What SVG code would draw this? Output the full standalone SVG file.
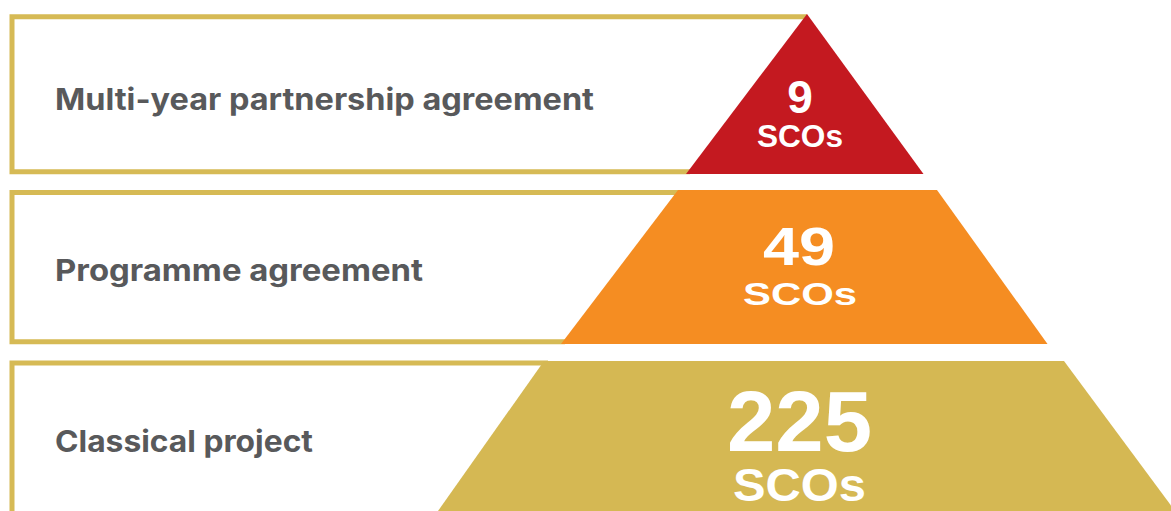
<svg xmlns="http://www.w3.org/2000/svg" width="1171" height="511" viewBox="0 0 1171 511">
  <style>
    .frame { fill: none; stroke: #D6BA55; stroke-width: 5; }
    .label { font-family: Inter, "Open Sans", "Liberation Sans", sans-serif; font-weight: 700; fill: #58595B; }
    .count { font-family: "Liberation Sans", Arial, sans-serif; font-weight: 700; fill: #FFFFFF; text-anchor: middle; }
  </style>
  <rect x="0" y="0" width="1171" height="511" fill="#FFFFFF"/>

  <!-- top tier -->
  <g id="tier-multi-year">
    <path class="frame" d="M807,16.8 H12 V171.7 H690"/>
    <polygon points="807,14 923.5,174 686,174" fill="#C41920"/>
    <text class="label" x="55" y="109.5" font-size="30" textLength="539" lengthAdjust="spacingAndGlyphs">Multi-year partnership agreement</text>
    <text class="count" x="800" y="113" font-size="46">9</text>
    <text class="count" x="800" y="147" font-size="31" textLength="86" lengthAdjust="spacingAndGlyphs">SCOs</text>
  </g>

  <!-- middle tier -->
  <g id="tier-programme">
    <path class="frame" d="M680,192.5 H12 V341.7 H565"/>
    <polygon points="678,190 937,190 1047.5,344 561,344" fill="#F58D22"/>
    <text class="label" x="55" y="281" font-size="30" textLength="368" lengthAdjust="spacingAndGlyphs">Programme agreement</text>
    <text class="count" x="799" y="265" font-size="53" textLength="72" lengthAdjust="spacingAndGlyphs">49</text>
    <text class="count" x="800" y="304.5" font-size="32" textLength="114" lengthAdjust="spacingAndGlyphs">SCOs</text>
  </g>

  <!-- base tier -->
  <g id="tier-classical">
    <path class="frame" d="M548,363 H12 V515"/>
    <polygon points="544,361 1064,361 1175,511 438,511" fill="#D5B853"/>
    <text class="label" x="55" y="452" font-size="30" textLength="258" lengthAdjust="spacingAndGlyphs">Classical project</text>
    <text class="count" x="799.5" y="451" font-size="86" textLength="145" lengthAdjust="spacingAndGlyphs">225</text>
    <text class="count" x="799.5" y="501" font-size="47" textLength="133" lengthAdjust="spacingAndGlyphs">SCOs</text>
  </g>

  <g id="connectors"/>
</svg>
